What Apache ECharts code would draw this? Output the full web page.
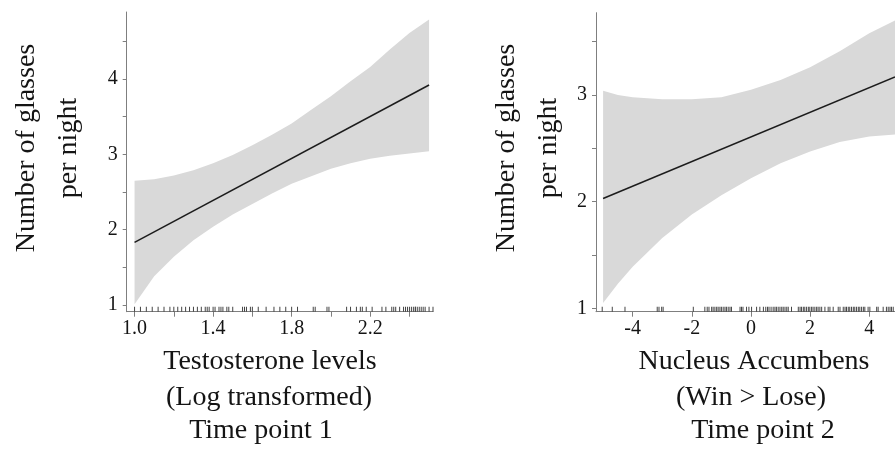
<!DOCTYPE html>
<html>
<head>
<meta charset="utf-8">
<script src="https://cdn.jsdelivr.net/npm/echarts@6/dist/echarts.min.js"></script>
<style>
html,body{margin:0;padding:0;background:#fff;}
#chart{width:895px;height:456px;}
</style>
</head>
<body>
<div id="chart"></div>
<script>
// ---- Panel 1: Testosterone levels (log transformed), time point 1 ----
var p1X      = [1.0, 1.1, 1.2, 1.3, 1.4, 1.5, 1.6, 1.7, 1.8, 1.9, 2.0, 2.1, 2.2, 2.3, 2.4, 2.5];
var p1Upper  = [2.65, 2.67, 2.72, 2.79, 2.88, 2.99, 3.12, 3.26, 3.41, 3.59, 3.77, 3.97, 4.16, 4.39, 4.61, 4.79];
var p1Lower  = [1.01, 1.38, 1.64, 1.86, 2.04, 2.20, 2.34, 2.48, 2.61, 2.71, 2.81, 2.88, 2.94, 2.98, 3.01, 3.04];
var p1LineX  = [1.0, 2.5];
var p1LineY  = [1.83, 3.92];
var p1Rug    = [1.0, 1.03, 1.06, 1.09, 1.12, 1.15, 1.18, 1.20, 1.22, 1.24, 1.26, 1.28, 1.30, 1.32, 1.34, 1.36, 1.37, 1.38,
                1.40, 1.41, 1.43, 1.44, 1.45, 1.47, 1.48, 1.50, 1.55, 1.56, 1.57, 1.59, 1.60, 1.63, 1.67, 1.71, 1.74,
                1.77, 1.80, 1.83, 1.91, 1.92, 1.98, 1.99, 2.08, 2.10, 2.13, 2.15, 2.16, 2.18, 2.21, 2.26, 2.28, 2.31,
                2.32, 2.33, 2.35, 2.37, 2.38, 2.39, 2.40, 2.41, 2.42, 2.43, 2.43, 2.44, 2.45, 2.46, 2.47, 2.48, 2.50, 2.52];
var p1XTicks  = [1.0, 1.2, 1.4, 1.6, 1.8, 2.0, 2.2, 2.4];
var p1XLabels = [1.0, 1.4, 1.8, 2.2];
var p1YTicks  = [1, 1.5, 2, 2.5, 3, 3.5, 4, 4.5];
var p1YLabels = [1, 2, 3, 4];

// ---- Panel 2: Nucleus Accumbens (Win > Lose), time point 2 ----
var p2X      = [-5.0, -4.5, -4.0, -3.0, -2.0, -1.0, 0.0, 1.0, 2.0, 3.0, 4.0, 4.87];
var p2Upper  = [3.04, 3.00, 2.98, 2.96, 2.96, 2.98, 3.05, 3.14, 3.26, 3.41, 3.58, 3.70];
var p2Lower  = [1.05, 1.23, 1.39, 1.66, 1.88, 2.06, 2.22, 2.36, 2.47, 2.56, 2.61, 2.63];
var p2LineX  = [-5.0, 4.87];
var p2LineY  = [2.03, 3.17];
var p2Rug    = [-5.03, -4.69, -4.26, -3.17, -3.11, -3.02, -2.97, -1.95, -1.56, -1.48, -1.42, -1.33, -1.28, -1.22, -1.16,
                -1.11, -1.05, -1.00, -0.94, -0.88, -0.83, -0.77, -0.71, -0.66, -0.37, -0.32, -0.27, -0.15, -0.07, 0.02,
                0.19, 0.30, 0.42, 0.50, 0.56, 0.61, 0.68, 0.75, 0.81, 0.86, 0.92, 0.98, 1.04, 1.09, 1.15, 1.21, 1.26,
                1.37, 1.60, 1.66, 1.71, 1.77, 1.82, 1.88, 1.94, 1.99, 2.05, 2.10, 2.16, 2.22, 2.27, 2.33, 2.39, 2.50,
                2.61, 2.67, 2.78, 2.95, 3.01, 3.12, 3.18, 3.23, 3.29, 3.34, 3.40, 3.46, 3.51, 3.57, 3.63, 3.68, 3.74,
                3.80, 3.85, 3.96, 4.02, 4.25, 4.30, 4.47, 4.58, 4.64, 4.70, 4.75, 4.81];
var p2XTicks  = [-4, -2, 0, 2, 4];
var p2XLabels = [-4, -2, 0, 2, 4];
var p2YTicks  = [1, 1.5, 2, 2.5, 3, 3.5];
var p2YLabels = [1, 2, 3];

var yTitle = ['Number of glasses', 'per night'];
var p1XTitle = ['Testosterone levels', '(Log transformed)', 'Time point 1'];
var p2XTitle = ['Nucleus Accumbens', '(Win > Lose)', 'Time point 2'];

// ---- styling ----
var FONT = 'Liberation Serif';
var AXIS_COLOR = '#7f7f7f';
var TEXT_COLOR = '#141414';
var BAND_COLOR = '#d9d9d9';
var LINE_COLOR = '#1c1c1c';
var RUG_COLOR = '#444444';

var axisRange = [
  {xmin: 0.96, xmax: 2.52, ymin: 0.911, ymax: 4.889},
  {xmin: -5.24, xmax: 4.87, ymin: 0.968, ymax: 3.772}
];

function xAxisCfg(g, ticks, labels, fmt) {
  return {
    type: 'value', gridIndex: g, min: axisRange[g].xmin, max: axisRange[g].xmax,
    axisLine: {show: true, onZero: false, lineStyle: {color: AXIS_COLOR, width: 1}},
    axisTick: {show: true, customValues: ticks, length: 5, lineStyle: {color: AXIS_COLOR}},
    axisLabel: {show: true, customValues: labels, formatter: fmt, fontFamily: FONT, fontSize: 20, color: TEXT_COLOR, margin: 7},
    splitLine: {show: false}
  };
}
function yAxisCfg(g, ticks, labels) {
  return {
    type: 'value', gridIndex: g, min: axisRange[g].ymin, max: axisRange[g].ymax,
    axisLine: {show: true, onZero: false, lineStyle: {color: AXIS_COLOR, width: 1}},
    axisTick: {show: true, customValues: ticks, length: 4, lineStyle: {color: AXIS_COLOR}},
    axisLabel: {show: true, customValues: labels, formatter: function (v) { return String(Math.round(v)); },
                fontFamily: FONT, fontSize: 20, color: TEXT_COLOR, margin: 9},
    splitLine: {show: false}
  };
}
function bandSeries(g, xs, lo, hi) {
  return {
    type: 'custom', xAxisIndex: g, yAxisIndex: g, silent: true, z: 1,
    data: xs.map(function (x, i) { return [x, lo[i], hi[i]]; }),
    encode: {x: 0, y: [1, 2]},
    renderItem: function (params, api) {
      if (params.dataIndex !== 0) return null;
      var pts = [];
      for (var i = 0; i < xs.length; i++) pts.push(api.coord([xs[i], hi[i]]));
      for (var j = xs.length - 1; j >= 0; j--) pts.push(api.coord([xs[j], lo[j]]));
      return {type: 'polygon', shape: {points: pts}, style: {fill: BAND_COLOR, stroke: null}};
    }
  };
}
function lineSeries(g, xs, ys) {
  return {
    type: 'line', xAxisIndex: g, yAxisIndex: g, silent: true, z: 3, symbol: 'none',
    data: xs.map(function (x, i) { return [x, ys[i]]; }),
    lineStyle: {color: LINE_COLOR, width: 1.5}
  };
}
function rugSeries(g, xs) {
  return {
    type: 'scatter', xAxisIndex: g, yAxisIndex: g, silent: true, z: 4,
    symbol: 'rect', symbolSize: [1, 5], symbolOffset: [0, -2.5],
    data: xs.map(function (x) { return [x, axisRange[g].ymin]; }),
    itemStyle: {color: RUG_COLOR, opacity: 1}
  };
}
function textEl(str, x, y, rot) {
  return {
    type: 'text', x: x, y: y, rotation: rot || 0, silent: true,
    style: {text: str, font: '28px "' + FONT + '"', fill: TEXT_COLOR, align: 'center', verticalAlign: 'middle'}
  };
}

var chart = echarts.init(document.getElementById('chart'), null, {renderer: 'canvas'});
chart.setOption({
  backgroundColor: '#ffffff',
  animation: false,
  grid: [
    {left: 126.7, top: 12, width: 306.3, height: 299.7},
    {left: 596, top: 12.7, width: 299, height: 299}
  ],
  xAxis: [
    xAxisCfg(0, p1XTicks, p1XLabels, function (v) { return v.toFixed(1); }),
    xAxisCfg(1, p2XTicks, p2XLabels, function (v) { return String(Math.round(v)); })
  ],
  yAxis: [
    yAxisCfg(0, p1YTicks, p1YLabels),
    yAxisCfg(1, p2YTicks, p2YLabels)
  ],
  series: [
    bandSeries(0, p1X, p1Lower, p1Upper),
    lineSeries(0, p1LineX, p1LineY),
    rugSeries(0, p1Rug),
    bandSeries(1, p2X, p2Lower, p2Upper),
    lineSeries(1, p2LineX, p2LineY),
    rugSeries(1, p2Rug)
  ],
  graphic: [
    textEl(yTitle[0], 27, 148, Math.PI / 2),
    textEl(yTitle[1], 69, 148, Math.PI / 2),
    textEl(yTitle[0], 507, 148, Math.PI / 2),
    textEl(yTitle[1], 549, 148, Math.PI / 2),
    textEl(p1XTitle[0], 270, 362),
    textEl(p1XTitle[1], 269, 398),
    textEl(p1XTitle[2], 261, 431),
    textEl(p2XTitle[0], 754, 362),
    textEl(p2XTitle[1], 751, 398),
    textEl(p2XTitle[2], 763, 431)
  ]
});
</script>
</body>
</html>
